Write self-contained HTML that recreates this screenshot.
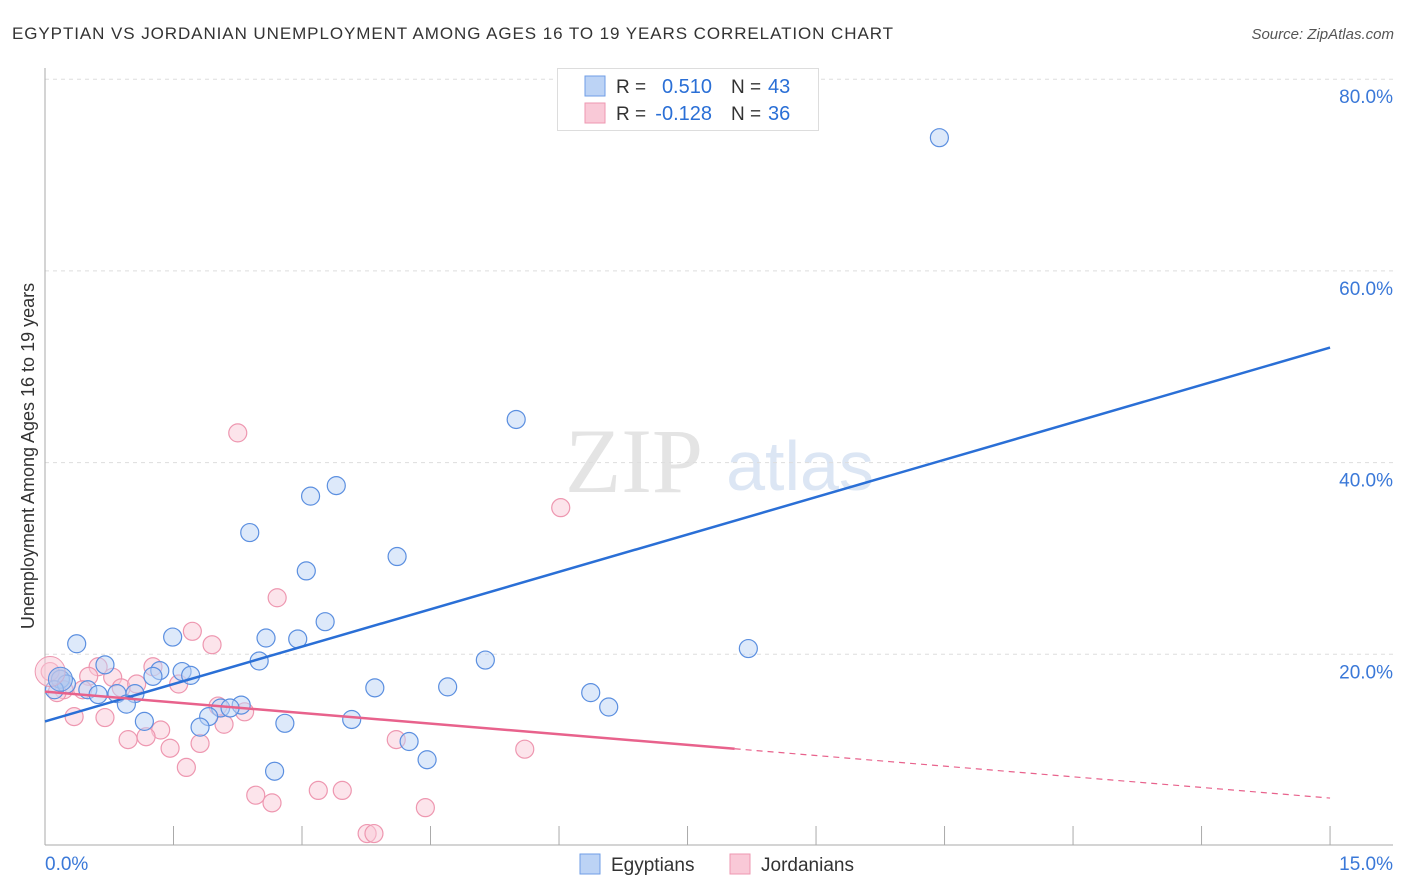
<!DOCTYPE html>
<html><head><meta charset="utf-8"><style>
body{margin:0;background:#fff;font-family:"Liberation Sans",sans-serif}
#wrap{position:relative;width:1406px;height:892px;overflow:hidden}
</style></head><body>
<div id="wrap">
<svg id="chart" width="1406" height="892" xmlns="http://www.w3.org/2000/svg">
<text x="12" y="39" font-size="17" fill="#333" textLength="881" lengthAdjust="spacing">EGYPTIAN VS JORDANIAN UNEMPLOYMENT AMONG AGES 16 TO 19 YEARS CORRELATION CHART</text>
<text x="1394" y="39" font-size="15" fill="#555" font-style="italic" text-anchor="end">Source: ZipAtlas.com</text>
<text x="634" y="492" font-size="92" fill="#e4e4e4" font-family="Liberation Serif,serif" text-anchor="middle">ZIP</text>
<text x="800" y="490" font-size="70" fill="#dce6f4" text-anchor="middle">atlas</text>
<text transform="translate(34,456) rotate(-90)" font-size="18" fill="#333" text-anchor="middle">Unemployment Among Ages 16 to 19 years</text>
<g id="grid"></g><g id="marks"></g>
<g>
<rect x="557.5" y="68.5" width="261" height="62" fill="#fff" stroke="#ddd"/>
<rect x="585" y="76" width="20" height="20" fill="#bcd3f5" stroke="#6f9ee6"/>
<rect x="585" y="103" width="20" height="20" fill="#f9c9d7" stroke="#ee97b0"/>
<text x="616" y="93" font-size="19" fill="#333">R =</text>
<text x="712" y="93" font-size="20" fill="#2a6fd6" text-anchor="end">0.510</text>
<text x="731" y="93" font-size="19" fill="#333">N =</text>
<text x="768" y="93" font-size="20" fill="#2a6fd6">43</text>
<text x="616" y="120" font-size="19" fill="#333">R =</text>
<text x="712" y="120" font-size="20" fill="#2a6fd6" text-anchor="end">-0.128</text>
<text x="731" y="120" font-size="19" fill="#333">N =</text>
<text x="768" y="120" font-size="20" fill="#2a6fd6">36</text>
</g>
<g>
<rect x="580" y="854" width="20" height="20" fill="#bcd3f5" stroke="#6f9ee6"/>
<text x="611" y="871" font-size="19" fill="#333">Egyptians</text>
<rect x="730" y="854" width="20" height="20" fill="#f9c9d7" stroke="#ee97b0"/>
<text x="761" y="871" font-size="19" fill="#333">Jordanians</text>
</g>
</svg>
</div>
<script>
const blueX=[10.44,5.50,3.40,3.10,2.39,4.11,3.05,3.27,1.49,2.58,2.95,0.37,8.21,5.14,2.50,0.70,1.34,1.60,1.70,1.26,0.18,0.25,0.11,3.85,4.70,0.50,0.62,0.84,1.05,6.37,0.95,2.29,2.05,2.16,6.58,1.91,3.58,1.16,2.80,1.81,4.25,4.46,2.68];
const blueY=[73.9,44.5,37.6,36.5,32.7,30.2,28.7,23.4,21.8,21.7,21.6,21.1,20.6,19.4,19.3,18.9,18.3,18.2,17.8,17.7,17.4,16.9,16.3,16.5,16.6,16.3,15.8,15.9,15.9,16.0,14.8,14.7,14.4,14.4,14.5,13.5,13.2,13.0,12.8,12.4,10.9,9.0,7.8];
const pinkX=[2.25,6.02,2.71,1.72,1.95,0.62,1.26,0.06,0.51,0.79,0.89,1.07,1.56,0.22,0.14,0.44,2.02,2.33,0.34,0.70,1.35,2.09,0.97,1.18,1.46,1.81,4.10,5.60,1.65,2.46,2.65,3.19,3.47,4.44,3.76,3.84];
const pinkY=[43.1,35.3,25.9,22.4,21.0,18.7,18.7,18.2,17.7,17.6,16.5,16.9,16.9,16.3,16.0,16.3,14.6,14.0,13.5,13.4,12.1,12.7,11.1,11.4,10.2,10.7,11.1,10.1,8.2,5.3,4.5,5.8,5.8,4.0,1.3,1.3];
const blueTrend=[13.0,52.0];
const pinkTrend=[16.1,5.0];
const pinkSolidEnd=8.05;
const yTicks=[20,40,60,80];
const xLabels=["0.0%","15.0%"];
const sx=v=>45+v*85.67, sy=v=>846-v*9.585;
const NS="http://www.w3.org/2000/svg";
function mk(tag,attrs,parent){const e=document.createElementNS(NS,tag);for(const k in attrs)e.setAttribute(k,attrs[k]);parent.appendChild(e);return e;}
const grid=document.getElementById('grid'), marks=document.getElementById('marks');
yTicks.forEach(t=>{
 const l=mk('line',{x1:45,x2:1393,y1:sy(t),y2:sy(t),stroke:'#ddd','stroke-dasharray':'4,4'},grid);
 
 
 const tx=mk('text',{x:1393,y:sy(t)+24,'font-size':19,fill:'#3a78d8','text-anchor':'end'},grid);
 tx.textContent=t.toFixed(1)+'%';
 
 
});
const ax=mk('line',{x1:45,x2:45,y1:68,y2:845,stroke:'#aaa'},grid);


const bx=mk('line',{x1:45,x2:1393,y1:845,y2:845,stroke:'#aaa'},grid);


for(let i=1;i<=10;i++){const x=sx(i*1.5);
 const t=mk('line',{x1:x,x2:x,y1:826,y2:845,stroke:'#aaa'},grid);
 
 }
[[0,'start',45],[15,'end',1393]].forEach((d,i)=>{
 const tx=mk('text',{x:d[2],y:870,'font-size':19,fill:'#3a78d8','text-anchor':d[1]},grid);
 tx.textContent=xLabels[i];
 
 
});
function pts(X,Y,fill,stroke,name){X.forEach((x,i)=>{
 const c=mk('circle',{cx:sx(x),cy:sy(Y[i]),r:9,fill:fill,'fill-opacity':0.5,stroke:stroke,'stroke-width':1.2},marks);
 
 });}
pts(pinkX,pinkY,'#f9c9d7','#ee97b0','jordanian-point');
pts(blueX,blueY,'#bcd3f5','#5b8fe0','egyptian-point');
const bigP=mk('circle',{cx:sx(0.06),cy:sy(18.2),r:15,fill:'#f9c9d7','fill-opacity':0.5,stroke:'#ee97b0'},marks);


const bigB=mk('circle',{cx:sx(0.18),cy:sy(17.4),r:12,fill:'#a9c3ee','fill-opacity':0.6,stroke:'#5b8fe0'},marks);


const bl=mk('line',{x1:sx(0),y1:sy(blueTrend[0]),x2:sx(15),y2:sy(blueTrend[1]),stroke:'#2a6fd6','stroke-width':2.5},marks);


const pv=x=>pinkTrend[0]+(pinkTrend[1]-pinkTrend[0])*x/15;
const pl=mk('line',{x1:sx(0),y1:sy(pv(0)),x2:sx(pinkSolidEnd),y2:sy(pv(pinkSolidEnd)),stroke:'#e8628c','stroke-width':2.5},marks);


const pd=mk('line',{x1:sx(pinkSolidEnd),y1:sy(pv(pinkSolidEnd)),x2:sx(15),y2:sy(pv(15)),stroke:'#e8628c','stroke-width':1.2,'stroke-dasharray':'6,5'},marks);


</script>
</body></html>
